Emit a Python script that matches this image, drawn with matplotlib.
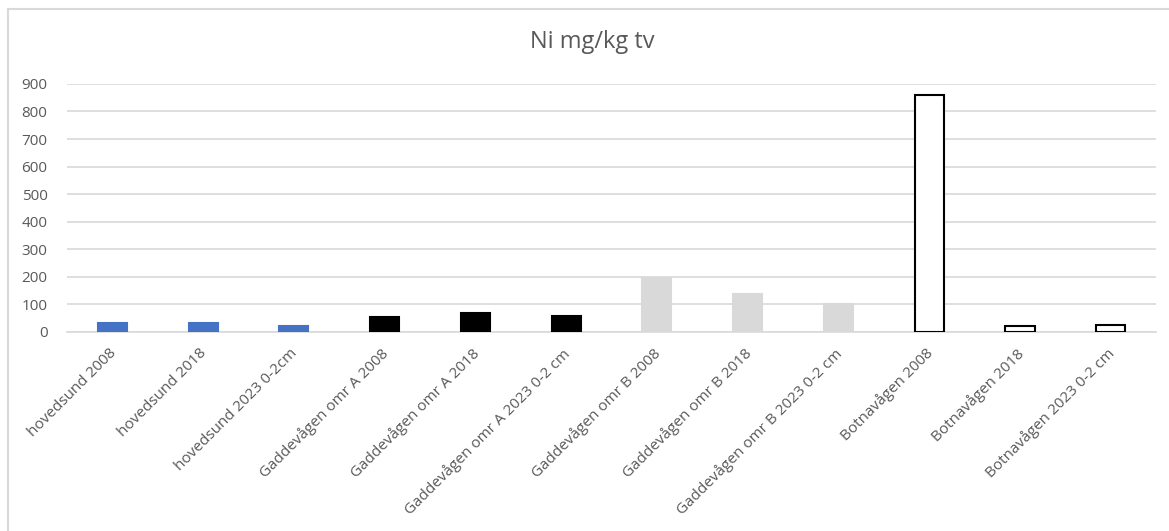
import matplotlib.pyplot as plt
from matplotlib.lines import Line2D
from matplotlib.transforms import ScaledTranslation

# data
labels = ["hovedsund 2008", "hovedsund 2018", "hovedsund 2023 0-2cm",
          "Gaddevågen omr A 2008", "Gaddevågen omr A 2018", "Gaddevågen omr A 2023 0-2 cm",
          "Gaddevågen omr B 2008", "Gaddevågen omr B 2018", "Gaddevågen omr B 2023 0-2 cm",
          "Botnavågen 2008", "Botnavågen 2018", "Botnavågen 2023 0-2 cm"]
values = [34, 34, 20, 55, 68, 56, 194, 138, 100, 861, 22, 25]
fills = ["#4472C4"] * 3 + ["#000000"] * 3 + ["#D9D9D9"] * 3 + ["#FFFFFF"] * 3
edges = ["#4472C4"] * 3 + ["#000000"] * 3 + ["#D9D9D9"] * 3 + ["#000000"] * 3
yticks = [0, 100, 200, 300, 400, 500, 600, 700, 800, 900]

plt.rcParams['font.family'] = ['Open Sans', 'DejaVu Sans']
txt = "#595959"
grid = "#D9D9D9"

fig = plt.figure(figsize=(11.69, 5.31), dpi=100)
ax = fig.add_axes([0.0573, 0.375, 0.9317, 0.467])

x = range(len(labels))
ax.bar(x, values, width=0.32, color=fills, edgecolor=edges, linewidth=1.5, zorder=3)

ax.set_xlim(-0.5, len(labels) - 0.5)
ax.set_ylim(0, 900)
ax.set_yticks(yticks)
ax.yaxis.grid(True, color=grid, linewidth=1.2, zorder=0)
ax.set_axisbelow(True)
for s in ["top", "right", "left"]:
    ax.spines[s].set_visible(False)
ax.spines["bottom"].set_color(grid)
ax.spines["bottom"].set_linewidth(1.2)

ax.set_xticks(list(x))
ax.set_xticklabels(labels, rotation=45, ha="right", rotation_mode="anchor",
                   fontsize=11, color=txt)
ax.tick_params(axis="both", length=0, labelsize=11, labelcolor=txt)
ax.tick_params(axis="x", pad=10)
ax.tick_params(axis="y", pad=14)
# nudge the rotated labels a little left
shift = ScaledTranslation(-0.04, 0, fig.dpi_scale_trans)
for lab in ax.get_xticklabels():
    lab.set_transform(lab.get_transform() + shift)

fig.text(0.507, 0.921, "Ni mg/kg tv", ha="center", va="center", fontsize=17, color=txt)

# chart area border (top and left visible)
fig.add_artist(Line2D([0.007, 1.0], [0.983, 0.983], color=grid, linewidth=1.5))
fig.add_artist(Line2D([0.007, 0.007], [0.0, 0.983], color=grid, linewidth=1.5))

fig.savefig("out.png", dpi=100)
